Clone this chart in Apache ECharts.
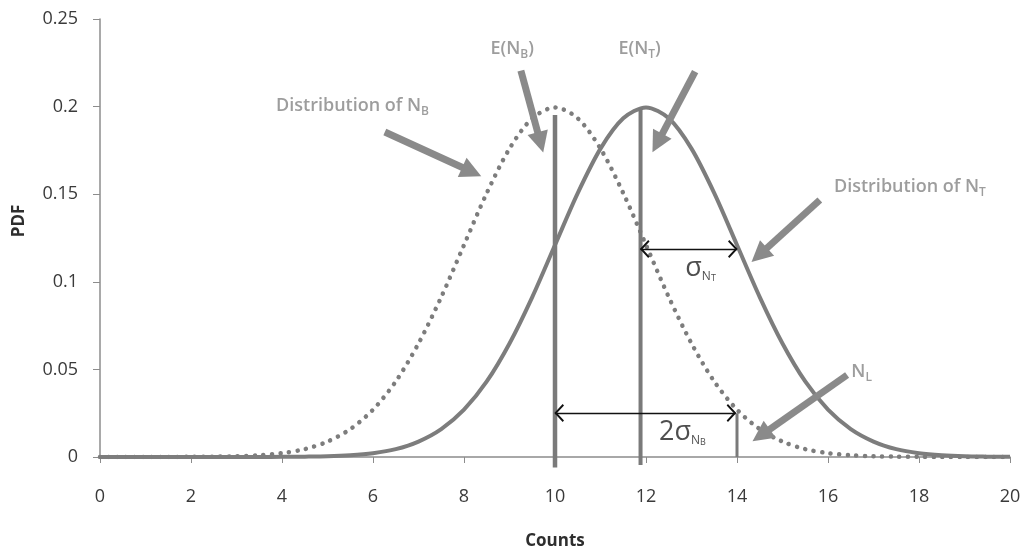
<!DOCTYPE html>
<html>
<head>
<meta charset="utf-8">
<script src="https://cdn.jsdelivr.net/npm/echarts@6/dist/echarts.min.js"></script>
<style>
  html, body { margin: 0; padding: 0; background: #fff; }
  #chart { width: 1021px; height: 553px; }
</style>
</head>
<body>
<div id="chart"></div>
<script>
// Counts axis sample points
const counts = [0, 0.5, 1, 1.5, 2, 2.5, 3, 3.5, 4, 4.5, 5, 5.5, 6, 6.5, 7, 7.5, 8, 8.5, 9, 9.5, 10,
                10.5, 11, 11.5, 12, 12.5, 13, 13.5, 14, 14.5, 15, 15.5, 16, 16.5, 17, 17.5, 18, 18.5, 19, 19.5, 20];

// PDF of the background count N_B (dotted curve)
const pdfNB = [0, 0, 0, 0, 0.0001, 0.0002, 0.0004, 0.0010, 0.0022, 0.0045, 0.0088, 0.0159, 0.0270, 0.0431, 0.0648, 0.0913, 0.1210, 0.1506, 0.1760, 0.1933, 0.1995,
               0.1933, 0.1760, 0.1506, 0.1210, 0.0913, 0.0648, 0.0431, 0.0270, 0.0159, 0.0088, 0.0045, 0.0022, 0.0010, 0.0004, 0.0002, 0.0001, 0, 0, 0, 0];

// PDF of the total count N_T (solid curve)
const pdfNT = [0, 0, 0, 0, 0, 0, 0, 0, 0.0001, 0.0002, 0.0004, 0.0010, 0.0022, 0.0045, 0.0088, 0.0159, 0.0270, 0.0431, 0.0648, 0.0913, 0.1210,
               0.1506, 0.1760, 0.1933, 0.1995, 0.1933, 0.1760, 0.1506, 0.1210, 0.0913, 0.0648, 0.0431, 0.0270, 0.0159, 0.0088, 0.0045, 0.0022, 0.0010, 0.0004, 0.0002, 0.0001];

// Reference values marked by vertical bars
const meanNB = 10;          // E(N_B)
const meanNT = 11.88;       // E(N_T)
const limitNL = 14;         // N_L = E(N_B) + 2 sigma
const meanNBTop = 0.1952;
const meanNTTop = 0.1992;
const limitNLTop = 0.025;
const barBottom = -0.006;

// Double-headed measurement arrows: [x1, x2, y]
const sigmaNT = [11.88, 14.0, 0.1187];
const twoSigmaNB = [10.0, 13.97, 0.0251];

// Callout arrows: [fromX, fromY, toX, toY]
const callouts = [
  [6.26, 0.1855, 8.17, 0.1628],   // Distribution of N_B
  [9.25, 0.2205, 9.68, 0.1796],   // E(N_B)
  [13.08, 0.2199, 12.25, 0.1792], // E(N_T)
  [15.82, 0.1467, 14.49, 0.1153], // Distribution of N_T
  [16.42, 0.0468, 14.53, 0.0124]  // N_L
];

// Annotation text: [x, y, rich text]
const notes = [
  [5.55, 0.2003, '{t|Distribution of N}{s|B}'],
  [9.06, 0.2329, '{t|E(N}{s|B}{t|)}'],
  [11.86, 0.2329, '{t|E(N}{s|T}{t|)}'],
  [17.8, 0.1541, '{t|Distribution of N}{s|T}'],
  [16.74, 0.0485, '{t|N}{s|L}'],
  [13.2, 0.1079, '{g|σ}{k|N}{kk|T}'],
  [12.8, 0.0143, '{g|2σ}{k|N}{kk|B}']
];

const FONT = '"Open Sans", "Liberation Sans", sans-serif';
const GRAY = '#7d7d7d';
const TEXT_GRAY = '#858585';
const ARROW_GRAY = '#8a8a8a';

const zip = (xs, ys) => xs.map((x, i) => [x, ys[i]]);

// open chevron head (tip at the symbol centre), used for the thin black arrows
const chevron = 'path://M0,20 L10,10 L20,20 L18.4,21.6 L10,13.2 L1.6,21.6 Z M10,0 L10.01,0 L10,0.01 Z';

const chart = echarts.init(document.getElementById('chart'), null, { renderer: 'canvas' });

chart.setOption({
  animation: false,
  backgroundColor: '#ffffff',
  grid: { left: 100, right: 11, top: 19, bottom: 96, containLabel: false, outerBoundsMode: 'none' },
  xAxis: {
    type: 'value', min: 0, max: 20, interval: 2,
    name: 'Counts', nameLocation: 'middle', nameGap: 76,
    nameTextStyle: { fontFamily: FONT, fontWeight: 'bold', fontSize: 17, color: '#2e2e2e' },
    axisLine: { lineStyle: { color: '#8c8c8c', width: 1.5 } },
    axisTick: { show: true, length: 6, lineStyle: { color: '#8c8c8c' } },
    axisLabel: { margin: 31, fontFamily: FONT, fontSize: 18, color: '#3a3a3a' },
    splitLine: { show: false }
  },
  yAxis: {
    type: 'value', min: 0, max: 0.25, interval: 0.05,
    name: 'PDF', nameLocation: 'middle', nameGap: 72, nameRotate: 90,
    nameTextStyle: { fontFamily: FONT, fontWeight: 'bold', fontSize: 17, color: '#2e2e2e', padding: [0, 0, 0, 34] },
    axisLine: { show: true, lineStyle: { color: '#8c8c8c', width: 1.5 } },
    axisTick: { show: true, length: 7, lineStyle: { color: '#8c8c8c' } },
    axisLabel: { margin: 22, fontFamily: FONT, fontSize: 18, color: '#3a3a3a' },
    splitLine: { show: false }
  },
  series: [
    {
      name: 'N_B', type: 'line', smooth: 0.3, symbol: 'none', z: 2,
      data: zip(counts, pdfNB),
      lineStyle: { color: GRAY, width: 4.5, type: [0.1, 8.5], cap: 'round' }
    },
    {
      name: 'N_T', type: 'line', smooth: 0.3, symbol: 'none', z: 3,
      data: zip(counts, pdfNT),
      lineStyle: { color: GRAY, width: 4 }
    },
    {
      name: 'E(N_B)', type: 'line', symbol: 'none', clip: false, z: 4,
      data: [[meanNB, barBottom], [meanNB, meanNBTop]],
      lineStyle: { color: '#7a7a7a', width: 4.5 }
    },
    {
      name: 'E(N_T)', type: 'line', symbol: 'none', clip: false, z: 4,
      data: [[meanNT, barBottom + 0.0015], [meanNT, meanNTTop]],
      lineStyle: { color: '#7a7a7a', width: 4 }
    },
    {
      name: 'N_L', type: 'line', symbol: 'none', clip: false, z: 4,
      data: [[limitNL, 0], [limitNL, limitNLTop]],
      lineStyle: { color: '#7a7a7a', width: 3 }
    },
    {
      name: 'callouts', type: 'line', data: [], z: 5,
      markLine: {
        silent: true, animation: false,
        symbol: ['none', 'triangle'], symbolSize: 21,
        label: { show: false },
        lineStyle: { color: ARROW_GRAY, width: 7, type: 'solid' },
        emphasis: { disabled: true },
        data: callouts.map(c => [{ coord: [c[0], c[1]] }, { coord: [c[2], c[3]] }])
      }
    },
    {
      name: 'spans', type: 'line', data: [], z: 6,
      markLine: {
        silent: true, animation: false,
        symbol: [chevron, chevron], symbolSize: 18,
        label: { show: false },
        lineStyle: { color: '#111', width: 1.4, type: 'solid' },
        emphasis: { disabled: true },
        data: [sigmaNT, twoSigmaNB].map(s => [{ coord: [s[0], s[2]] }, { coord: [s[1], s[2]] }])
      }
    },
    {
      name: 'notes', type: 'scatter', symbolSize: 0, z: 7, silent: true,
      data: notes.map(n => ({ value: [n[0], n[1]], label: { formatter: n[2] } })),
      label: {
        show: true, position: 'inside',
        rich: {
          t: { fontFamily: FONT, fontSize: 18, fontWeight: 600, color: TEXT_GRAY, lineHeight: 24, verticalAlign: 'middle' },
          s: { fontFamily: FONT, fontSize: 12, fontWeight: 600, color: TEXT_GRAY, lineHeight: 13, verticalAlign: 'bottom' },
          g: { fontFamily: FONT, fontSize: 27, color: '#222', lineHeight: 30, verticalAlign: 'middle' },
          k: { fontFamily: FONT, fontSize: 12, color: '#222', lineHeight: 15, verticalAlign: 'bottom' },
          kk: { fontFamily: FONT, fontSize: 9, color: '#222', lineHeight: 13, verticalAlign: 'bottom' }
        }
      }
    }
  ]
});
</script>
</body>
</html>
